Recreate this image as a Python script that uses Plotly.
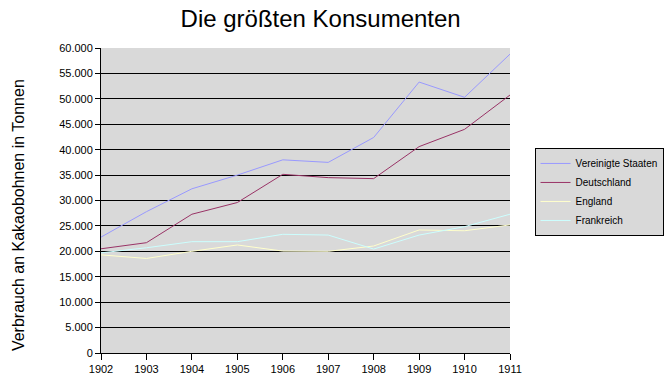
import plotly.graph_objects as go

years = [1902, 1903, 1904, 1905, 1906, 1907, 1908, 1909, 1910, 1911]
vereinigte_staaten = [22800, 27800, 32300, 35000, 38000, 37500, 42400, 53300, 50300, 58800]
deutschland = [20500, 21700, 27300, 29600, 35150, 34500, 34300, 40600, 44000, 50750]
england = [19300, 18600, 20000, 21250, 20050, 20000, 21050, 24200, 24050, 25200]
frankreich = [19700, 20700, 21900, 21900, 23350, 23200, 20450, 23200, 24850, 27300]
y_ticks = list(range(0, 60001, 5000))

series = [
    ("Vereinigte Staaten", vereinigte_staaten, "#9999FF"),
    ("Deutschland", deutschland, "#993366"),
    ("England", england, "#FFFFCC"),
    ("Frankreich", frankreich, "#CCFFFF"),
]

fig = go.Figure()
for name, vals, color in series:
    fig.add_trace(go.Scatter(x=years, y=vals, name=name, mode="lines",
                             line=dict(color=color, width=1)))

fig.update_layout(
    width=668, height=387,
    margin=dict(l=101, r=158, t=48, b=34, autoexpand=False),
    paper_bgcolor="white",
    plot_bgcolor="#D9D9D9",
    separators=",.",
    font=dict(family="Liberation Sans, Arial, sans-serif", color="black", size=11),
    title=dict(text="Die größten Konsumenten", x=0.48, xanchor="center", xref="container",
               y=0.953, yanchor="middle", yref="container",
               font=dict(size=24, color="black"), automargin=False),
    showlegend=True,
    legend=dict(x=1.06, y=0.528, xanchor="left", yanchor="middle",
                bgcolor="#D9D9D9", bordercolor="black", borderwidth=1,
                font=dict(size=10), tracegroupgap=0, itemwidth=30),
    annotations=[dict(text="Verbrauch an Kakaobohnen in Tonnen", textangle=-90,
                      xref="paper", yref="paper", x=-0.203, y=0.452,
                      xanchor="center", yanchor="middle", showarrow=False,
                      font=dict(size=16, color="black"))],
)
fig.update_xaxes(range=[1902, 1911], tickmode="array", tickvals=years,
                 ticktext=[str(y) for y in years], automargin=False,
                 showgrid=False, zeroline=False, showline=True, linecolor="black", linewidth=1,
                 ticks="outside", ticklen=6, tickcolor="black", tickfont=dict(size=11))
fig.update_yaxes(range=[0, 60000], tickmode="array", tickvals=y_ticks, automargin=False,
                 tickformat=",d", showgrid=True, gridcolor="black", gridwidth=1,
                 zeroline=False, showline=True, linecolor="black", linewidth=1,
                 ticks="outside", ticklen=5, tickcolor="black", tickfont=dict(size=11))

fig.write_html("out.html", config={"displayModeBar": False},
               post_script="document.body.style.margin='0';")
